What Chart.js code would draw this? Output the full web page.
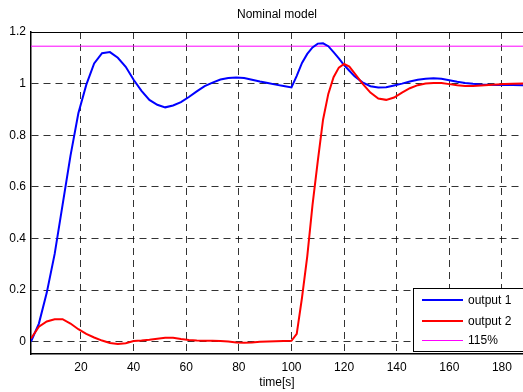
<!DOCTYPE html>
<html>
<head>
<meta charset="utf-8">
<script src="https://cdn.jsdelivr.net/npm/chart.js@4/dist/chart.umd.min.js"></script>
<style>
  html, body { margin: 0; padding: 0; background: #fff; }
  #wrap { width: 523px; height: 392px; position: relative; }
</style>
</head>
<body>
<div id="wrap"><canvas id="c" width="523" height="392"></canvas></div>
<script>
const time = [1, 4, 7, 10, 13, 16, 19, 22, 25, 28, 31, 34, 37, 40, 43, 46, 49, 52, 55, 58, 61, 64, 67, 70, 73, 76, 79, 82, 85, 88, 91, 94, 97, 100, 102, 104, 106, 108, 110, 112, 114, 116, 118, 120, 122, 124, 127, 130, 133, 136, 139, 142, 145, 148, 151, 154, 157, 160, 163, 166, 169, 172, 175, 178, 181, 184, 188];
const output1 = [0.0, 0.07, 0.19, 0.34, 0.53, 0.72, 0.885, 0.995, 1.078, 1.118, 1.122, 1.10, 1.065, 1.015, 0.972, 0.937, 0.918, 0.908, 0.915, 0.928, 0.948, 0.97, 0.99, 1.004, 1.016, 1.022, 1.024, 1.022, 1.015, 1.008, 1.002, 0.996, 0.991, 0.985, 1.03, 1.08, 1.115, 1.14, 1.155, 1.156, 1.145, 1.122, 1.098, 1.072, 1.05, 1.028, 1.005, 0.99, 0.985, 0.986, 0.993, 1.0, 1.008, 1.015, 1.019, 1.021, 1.019, 1.013, 1.007, 1.002, 0.999, 0.997, 0.996, 0.995, 0.995, 0.995, 0.994];
const output2 = [0.012, 0.058, 0.078, 0.087, 0.087, 0.07, 0.048, 0.03, 0.016, 0.004, -0.005, -0.009, -0.006, 0.002, 0.004, 0.007, 0.011, 0.015, 0.015, 0.01, 0.006, 0.004, 0.003, 0.003, 0.002, 0.0, -0.003, -0.004, -0.003, -0.001, 0.0, 0.001, 0.002, 0.003, 0.03, 0.17, 0.33, 0.53, 0.70, 0.86, 0.96, 1.025, 1.062, 1.076, 1.066, 1.04, 1.0, 0.965, 0.942, 0.937, 0.946, 0.965, 0.982, 0.994, 1.0, 1.002, 1.002, 0.998, 0.994, 0.991, 0.991, 0.993, 0.995, 0.997, 0.998, 0.999, 1.0];
const limitLevel = 1.145;
const limitTime = [1, 188];
const xTicks = [20, 40, 60, 80, 100, 120, 140, 160, 180];
const yTicks = [0, 0.2, 0.4, 0.6, 0.8, 1, 1.2];
const seriesLabels = ['output 1', 'output 2', '115%'];
const titleText = 'Nominal model';
const xLabel = 'time[s]';

const FONT = '"Liberation Sans", Arial, Helvetica, sans-serif';

const toPts = (xs, ys) => xs.map((x, i) => ({ x: x, y: ys[i] }));

const frame = {
  id: 'frame',
  afterDraw(chart) {
    const { ctx, chartArea: a } = chart;
    ctx.save();
    ctx.strokeStyle = '#000';
    ctx.lineWidth = 1;
    ctx.beginPath();
    ctx.moveTo(a.left, Math.round(a.top) + 0.5);
    ctx.lineTo(a.right + 2, Math.round(a.top) + 0.5);
    ctx.stroke();
    ctx.fillStyle = '#000';
    ctx.font = '12px ' + FONT;
    ctx.textAlign = 'center';
    ctx.textBaseline = 'middle';
    ctx.fillText(titleText, (a.left + a.right) / 2, 15);
    const bx = 413.5, by = 288.5, bw = 120, bh = 63;
    ctx.fillStyle = '#fff';
    ctx.fillRect(bx, by, bw, bh);
    ctx.strokeStyle = '#000';
    ctx.lineWidth = 1;
    ctx.strokeRect(bx, by, bw, bh);
    const rows = [300, 321, 340.5];
    const ds = chart.data.datasets;
    [0, 1, 2].forEach((i, r) => {
      const d = ds[i];
      ctx.strokeStyle = d.borderColor;
      ctx.lineWidth = d.borderWidth;
      ctx.beginPath();
      ctx.moveTo(422, rows[r]);
      ctx.lineTo(463, rows[r]);
      ctx.stroke();
      ctx.fillStyle = '#000';
      ctx.font = '12px ' + FONT;
      ctx.textAlign = 'left';
      ctx.textBaseline = 'middle';
      ctx.fillText(d.label, 468, rows[r] + 0.5);
    });
    ctx.restore();
  }
};

new Chart(document.getElementById('c'), {
  type: 'line',
  data: {
    datasets: [
      { label: seriesLabels[0], data: toPts(time, output1), borderColor: '#0000ff', borderWidth: 2, pointRadius: 0, tension: 0, order: 1 },
      { label: seriesLabels[1], data: toPts(time, output2), borderColor: '#ff0000', borderWidth: 2, pointRadius: 0, tension: 0, order: 0 },
      { label: seriesLabels[2], data: toPts(limitTime, [limitLevel, limitLevel]), borderColor: '#ff00ff', borderWidth: 1, pointRadius: 0, tension: 0, order: 2 }
    ]
  },
  options: {
    responsive: false,
    animation: false,
    events: [],
    layout: { padding: { top: 32, right: 0, left: 0, bottom: 0 } },
    plugins: { legend: { display: false }, title: { display: false }, tooltip: { enabled: false } },
    scales: {
      x: {
        type: 'linear', min: 1, max: 188,
        afterBuildTicks: s => { s.ticks = xTicks.map(v => ({ value: v })); },
        afterFit: s => { s.height = 38; },
        grid: { color: 'rgba(0,0,0,0.8)', lineWidth: 1, drawTicks: false },
        border: { display: true, color: '#000', width: 1.5, dash: [7, 5] },
        ticks: { color: '#000', font: { family: FONT, size: 12 }, padding: 6, maxRotation: 0, autoSkip: false },
        title: { display: true, text: xLabel, color: '#000', font: { family: FONT, size: 12 }, padding: { top: 0, bottom: 2 } }
      },
      y: {
        type: 'linear', min: -0.048, max: 1.2,
        afterBuildTicks: s => { s.ticks = yTicks.map(v => ({ value: v })); },
        afterFit: s => { s.width = 31; },
        grid: { color: 'rgba(0,0,0,0.8)', lineWidth: 1, drawTicks: false },
        border: { display: true, color: '#000', width: 1.5, dash: [7, 5] },
        ticks: { color: '#000', font: { family: FONT, size: 12 }, padding: 5, callback: v => String(v) }
      }
    }
  },
  plugins: [frame]
});
</script>
</body>
</html>
